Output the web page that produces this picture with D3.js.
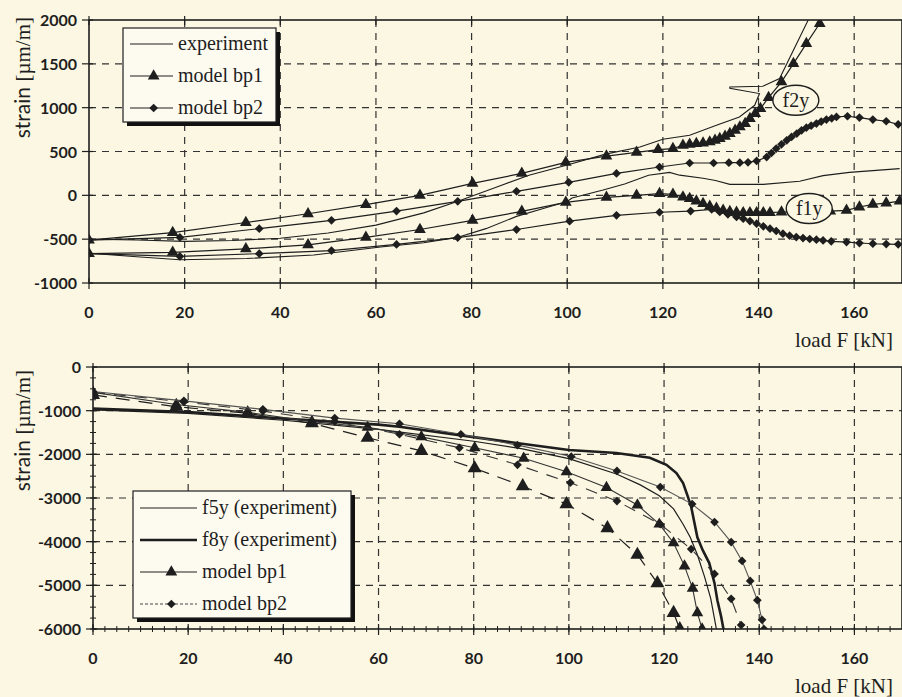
<!DOCTYPE html>
<html>
<head>
<meta charset="utf-8">
<script src="https://cdn.jsdelivr.net/npm/d3@7"></script>
<style>
   body { margin: 0; background: #fbf7e2; }
   svg { display: block; }
</style>
</head>
<body>
<div id="chartContainer"></div>
<script>
// load F [kN] ticks, strain ticks
const X_TICKS = [0, 20, 40, 60, 80, 100, 120, 140, 160];
const TOP_Y_TICKS = [-1000, -500, 0, 500, 1000, 1500, 2000];
const BOTTOM_Y_TICKS = [-6000, -5000, -4000, -3000, -2000, -1000, 0];

// top chart: gauges f2y and f1y, [load, strain]
const f2yExperiment = [[0,-500],[10,-510],[20,-525],[30,-515],[40,-490],[50,-430],[60,-340],[70,-200],[77,-70],[85,90],[92,230],[100,345],[108,470],[115.2,552],[120,640],[125.6,685],[131.2,800],[136,894],[139.2,1027],[140.2,1161],[134,1222],[134,1236],[140.9,1244],[144.4,1332],[150.7,2035]];
const f2yBp1 = [[0,-510],[17.5,-425],[32.8,-310],[45.8,-210],[57.9,-105],[69.2,0],[80.2,137],[90.5,250],[99.7,376],[108.2,447],[114.5,491],[119,522],[122.1,533],[124.2,571],[125.6,582],[127,590],[128.4,597],[129.8,609],[130.9,628],[131.9,647],[133,673],[134,704],[135.1,742],[136.1,780],[137.2,818],[138.2,875],[139.3,932],[140.4,989],[142.1,1115],[144.8,1294],[147.3,1503],[150,1731],[152.8,1960]];
const f2yBp2 = [[0,-510],[19,-480],[35.6,-380],[50.7,-285],[64.3,-180],[77.1,-68],[89.4,46],[100.3,148],[110.3,250],[119.3,323],[125.6,369],[130.6,369],[133.8,373],[136.1,373],[137.8,377],[139.6,392],[141.7,437],[142.7,483],[143.7,533],[144.8,582],[145.9,628],[146.9,666],[148,704],[149,742],[150,772],[151,795],[152.1,818],[153.1,841],[154.2,864],[155.3,879],[156.3,894],[158.6,902],[161.1,887],[163.9,864],[166.7,845],[169.2,810]];
const f1yExperiment = [[0,-660],[10,-700],[19,-735],[33,-720],[47,-680],[61,-590],[70,-540],[77,-480],[83,-380],[89.4,-240],[95,-150],[100,-70],[101,-30],[107.5,60],[112,130],[117,230],[121.4,262],[123.5,230],[128.4,195],[131,170],[134,125],[141,125],[148.6,160],[153.5,225],[159,262],[169.5,305]];
const f1yBp1 = [[0,-665],[17.5,-650],[32.8,-610],[45.8,-565],[57.9,-480],[69.2,-390],[80.2,-285],[90.5,-183],[99.7,-80],[108.2,-23],[114.5,0],[119.3,19],[122.1,11],[124.2,-19],[125.6,-38],[127,-65],[128.4,-95],[129.8,-126],[131.2,-148],[132.6,-171],[134,-186],[135.4,-194],[136.8,-198],[138.2,-198],[139.6,-198],[141,-198],[142.4,-198],[144.8,-190],[150,-185],[155,-180],[158.4,-171],[161.1,-133],[163.9,-103],[166.7,-88],[169.5,-65]];
const f1yBp2 = [[0,-665],[19,-697],[35.6,-665],[50.7,-630],[64.3,-560],[77.1,-482],[89.4,-390],[100.5,-295],[110.3,-228],[119.3,-193],[125.8,-180],[130.2,-160],[131.9,-190],[133.6,-217],[135.4,-247],[136.8,-266],[138.2,-293],[139.6,-323],[141,-354],[142.4,-380],[143.7,-407],[145.1,-438],[146.5,-460],[147.9,-476],[149.3,-487],[150.7,-498],[152.1,-506],[153.5,-514],[155.2,-525],[158.4,-533],[161.1,-544],[163.9,-552],[166.7,-556],[169.2,-559]];

// bottom chart: gauges f5y and f8y
const f5yExperiment = [[0,-980],[20,-1060],[40,-1220],[60,-1430],[80,-1700],[90,-1870],[100,-2100],[110,-2450],[115,-2700],[119,-2950],[122,-3250],[124,-3600],[125.5,-3900],[127,-4300],[128.5,-4800],[129.8,-5300],[131,-6000]];
const f8yExperiment = [[0,-950],[20,-1030],[40,-1180],[60,-1320],[64.4,-1370],[77,-1560],[89,-1740],[100,-1900],[110,-1970],[117,-2080],[120.5,-2240],[122.6,-2430],[124,-2660],[125,-2970],[125.7,-3200],[126.4,-3580],[127,-3900],[128.1,-4190],[129.5,-4490],[130.6,-4950],[131.2,-5340],[132,-5720],[132.6,-6070]];
const bp1Solid = [[0,-580],[17.5,-860],[32.5,-1040],[46,-1250],[57.7,-1380],[69,-1600],[80.2,-1850],[90.5,-2090],[99.5,-2400],[107.9,-2760],[114.4,-3160],[119,-3600],[122,-4030],[124.3,-4560],[126,-5070],[127,-5630],[128,-6000]];
const bp1Dashed = [[0,-640],[17.5,-910],[32.5,-1060],[46,-1290],[57.7,-1620],[69,-1920],[80.2,-2320],[90.3,-2730],[99.5,-3140],[108.1,-3690],[114.4,-4300],[118.6,-4950],[122,-5630],[123.3,-6000]];
const bp2Solid = [[0,-560],[19.1,-775],[35.7,-970],[50.8,-1170],[64.4,-1300],[77.3,-1540],[89.2,-1790],[100.5,-2050],[110.1,-2380],[119.2,-2750],[125.9,-3140],[130.6,-3550],[134.1,-4010],[136.4,-4440],[138.1,-4900],[139.6,-5340],[140.6,-5790],[141,-6000]];
const bp2Dashed = [[0,-580],[19.1,-800],[35.7,-1010],[50.8,-1250],[64.4,-1540],[77,-1850],[89.2,-2240],[100.3,-2650],[110.1,-3070],[119.2,-3600],[125.7,-4170],[130.6,-4740],[134.1,-5310],[136.2,-5910]];

const WIDTH = 902;
const HEIGHT = 697;
const BG = "#fbf7e2";
const INK = "#1e1e1e";
const TICK_FONT = "Lato, 'DejaVu Sans', sans-serif";
const SERIF = "'Liberation Serif', 'DejaVu Serif', serif";

const svg = d3.select("#chartContainer")
   .append("svg")
   .attr("width", WIDTH)
   .attr("height", HEIGHT)
   .style("background", BG);

// triangle, or a square turned on its corner for the diamond
const markerPath = (kind, size) => kind === "tri"
   ? d3.symbol(d3.symbolTriangle).size(size || 60)()
   : d3.symbol(d3.symbolSquare).size(size || 38)();
const markerRot = kind => kind === "tri" ? "" : " rotate(45)";

const drawPanel = (cfg) => {
   const x = d3.scaleLinear().domain([0, 170]).range(cfg.xRange);
   const y = d3.scaleLinear().domain(cfg.yDomain).range(cfg.yRange);
   const [left, right] = cfg.xRange;
   const [bottom, top] = cfg.yRange;
   const g = svg.append("g");

   g.append("clipPath").attr("id", cfg.id)
      .append("rect")
      .attr("x", left).attr("y", top)
      .attr("width", right - left).attr("height", bottom - top);

   // dashed grid
   g.selectAll(".vgrid")
      .data(X_TICKS.filter(d => d > 0))
      .join("line")
      .attr("x1", d => x(d)).attr("x2", d => x(d))
      .attr("y1", top).attr("y2", bottom)
      .attr("stroke", "#333").attr("stroke-width", 1.2)
      .attr("stroke-dasharray", "7,6");
   g.selectAll(".hgrid")
      .data(cfg.yTicks.filter(d => d !== cfg.yDomain[0] && d !== cfg.yDomain[1]))
      .join("line")
      .attr("x1", left).attr("x2", right)
      .attr("y1", d => y(d)).attr("y2", d => y(d))
      .attr("stroke", "#333").attr("stroke-width", 1.2)
      .attr("stroke-dasharray", "7,6");

   // minor ticks
   if (cfg.minorX) {
      g.selectAll(".minx")
         .data(d3.range(0, 170, cfg.minorX))
         .join("line")
         .attr("x1", d => x(d)).attr("x2", d => x(d))
         .attr("y1", bottom - 3).attr("y2", bottom + 3)
         .attr("stroke", INK).attr("stroke-width", 1);
      g.selectAll(".miny")
         .data(d3.range(cfg.yDomain[0], cfg.yDomain[1], cfg.minorY))
         .join("line")
         .attr("x1", left - 3).attr("x2", left + 3)
         .attr("y1", d => y(d)).attr("y2", d => y(d))
         .attr("stroke", INK).attr("stroke-width", 1);
   }

   // axes ticks and labels
   g.selectAll(".xt")
      .data(X_TICKS)
      .join("line")
      .attr("x1", d => x(d)).attr("x2", d => x(d))
      .attr("y1", bottom - 5).attr("y2", bottom + 6)
      .attr("stroke", INK).attr("stroke-width", 1.2);
   g.selectAll(".xt2")
      .data(X_TICKS)
      .join("line")
      .attr("x1", d => x(d)).attr("x2", d => x(d))
      .attr("y1", top - 4).attr("y2", top + 5)
      .attr("stroke", INK).attr("stroke-width", 1.2);
   g.selectAll(".yt")
      .data(cfg.yTicks)
      .join("line")
      .attr("x1", left - 7).attr("x2", left + 4)
      .attr("y1", d => y(d)).attr("y2", d => y(d))
      .attr("stroke", INK).attr("stroke-width", 1.2);
   g.selectAll(".xl")
      .data(X_TICKS)
      .join("text")
      .attr("x", d => x(d)).attr("y", bottom + 35)
      .attr("text-anchor", "middle")
      .attr("font-family", TICK_FONT).attr("font-weight", "bold")
      .attr("font-size", "16px").attr("fill", INK)
      .text(d => d);
   g.selectAll(".yl")
      .data(cfg.yTicks)
      .join("text")
      .attr("x", cfg.yLabelRight).attr("y", d => y(d) + 6)
      .attr("text-anchor", "end")
      .attr("font-family", TICK_FONT).attr("font-weight", "bold")
      .attr("font-size", "16px").attr("fill", INK)
      .text(d => d);

   // axis titles
   g.append("text")
      .attr("x", 893).attr("y", bottom + 64)
      .attr("text-anchor", "end")
      .attr("font-family", SERIF).attr("font-size", "21px").attr("fill", INK)
      .text("load F [kN]");
   const yt = g.append("text")
      .attr("transform", `translate(30, ${cfg.yTitleTop}) rotate(-90)`)
      .attr("text-anchor", "end")
      .attr("font-size", "21px").attr("fill", INK);
   yt.append("tspan").attr("font-family", TICK_FONT).text("strain ");
   yt.append("tspan").attr("font-family", SERIF).text("[µm/m]");

   // series
   const plot = g.append("g").attr("clip-path", `url(#${cfg.id})`);
   const line = d3.line().x(d => x(d[0])).y(d => y(d[1]));
   cfg.series.forEach(s => {
      plot.append("path")
         .datum(s.data)
         .attr("d", line)
         .attr("fill", "none")
         .attr("stroke", s.color || INK)
         .attr("stroke-width", s.width || 1.2)
         .attr("stroke-dasharray", s.dash || null);
      if (s.marker) {
         plot.selectAll(null)
            .data(s.data)
            .join("path")
            .attr("transform", d => `translate(${x(d[0])},${y(d[1])})${markerRot(s.marker)}`)
            .attr("d", markerPath(s.marker, s.size))
            .attr("fill", INK);
      }
   });

   // frame
   g.append("rect")
      .attr("x", left).attr("y", top)
      .attr("width", right - left).attr("height", bottom - top)
      .attr("fill", "none").attr("stroke", INK).attr("stroke-width", 1.6);

   return { g, x, y };
};

const drawLegend = (g, box, items) => {
   g.append("rect")
      .attr("x", box.x + 4).attr("y", box.y + 4)
      .attr("width", box.w).attr("height", box.h)
      .attr("fill", "#111");
   g.append("rect")
      .attr("x", box.x).attr("y", box.y)
      .attr("width", box.w).attr("height", box.h)
      .attr("fill", "#fdfbf0").attr("stroke", INK).attr("stroke-width", 1.2);
   items.forEach((it, i) => {
      const yy = box.y + box.first + i * box.step;
      g.append("line")
         .attr("x1", box.x + 7).attr("x2", box.x + 7 + box.sample)
         .attr("y1", yy).attr("y2", yy)
         .attr("stroke", it.color || INK).attr("stroke-width", it.width || 1.2)
         .attr("stroke-dasharray", it.dash || null);
      if (it.marker) {
         g.append("path")
            .attr("transform", `translate(${box.x + 7 + box.sample * 0.55},${yy})${markerRot(it.marker)}`)
            .attr("d", markerPath(it.marker))
            .attr("fill", INK);
      }
      g.append("text")
         .attr("x", box.x + 12 + box.sample).attr("y", yy + 6)
         .attr("font-family", SERIF).attr("font-size", "20px").attr("fill", INK)
         .text(it.label);
   });
};

const labelBubble = (g, cx, cy, text) => {
   g.append("ellipse")
      .attr("cx", cx).attr("cy", cy).attr("rx", 23).attr("ry", 15)
      .attr("fill", BG).attr("stroke", INK).attr("stroke-width", 1.4);
   g.append("text")
      .attr("x", cx).attr("y", cy + 7)
      .attr("text-anchor", "middle")
      .attr("font-family", SERIF).attr("font-size", "20px").attr("fill", INK)
      .text(text);
};

const topPanel = drawPanel({
   id: "clipTop",
   xRange: [89, 902],
   yDomain: [-1000, 2000],
   yRange: [283, 20],
   yTicks: TOP_Y_TICKS,
   yLabelRight: 77,
   yTitleTop: 17,
   series: [
      { data: f2yExperiment, width: 1.1 },
      { data: f1yExperiment, width: 1.1 },
      { data: f2yBp1, marker: "tri" },
      { data: f1yBp1, marker: "tri" },
      { data: f2yBp2, marker: "dia" },
      { data: f1yBp2, marker: "dia" },
   ]
});
labelBubble(topPanel.g, topPanel.x(147.8), topPanel.y(1085), "f2y");
labelBubble(topPanel.g, topPanel.x(150.6), topPanel.y(-150), "f1y");
drawLegend(topPanel.g, { x: 123, y: 28, w: 153, h: 94, first: 16, step: 32, sample: 43 }, [
   { label: "experiment" },
   { label: "model bp1", marker: "tri" },
   { label: "model bp2", marker: "dia" },
]);

const bottomPanel = drawPanel({
   id: "clipBottom",
   xRange: [93, 902],
   yDomain: [-6000, 0],
   yRange: [629, 367],
   yTicks: BOTTOM_Y_TICKS,
   yLabelRight: 81,
   yTitleTop: 370,
   minorX: 2.5,
   minorY: 250,
   series: [
      { data: f5yExperiment, width: 1.2 },
      { data: f8yExperiment, width: 2.6 },
      { data: bp1Solid, marker: "tri", width: 1.1, color: "#333" },
      { data: bp1Dashed, marker: "tri", size: 85, width: 1.2, dash: "14,9" },
      { data: bp2Solid, marker: "dia", width: 1.1, color: "#555" },
      { data: bp2Dashed, marker: "dia", width: 1.1, dash: "12,9", color: "#333" },
   ]
});
drawLegend(bottomPanel.g, { x: 133, y: 491, w: 218, h: 127, first: 17, step: 32, sample: 57 }, [
   { label: "f5y (experiment)" },
   { label: "f8y (experiment)", width: 2.6 },
   { label: "model bp1", marker: "tri" },
   { label: "model bp2", marker: "dia", dash: "3,2", color: "#444" },
]);
</script>
</body>
</html>
